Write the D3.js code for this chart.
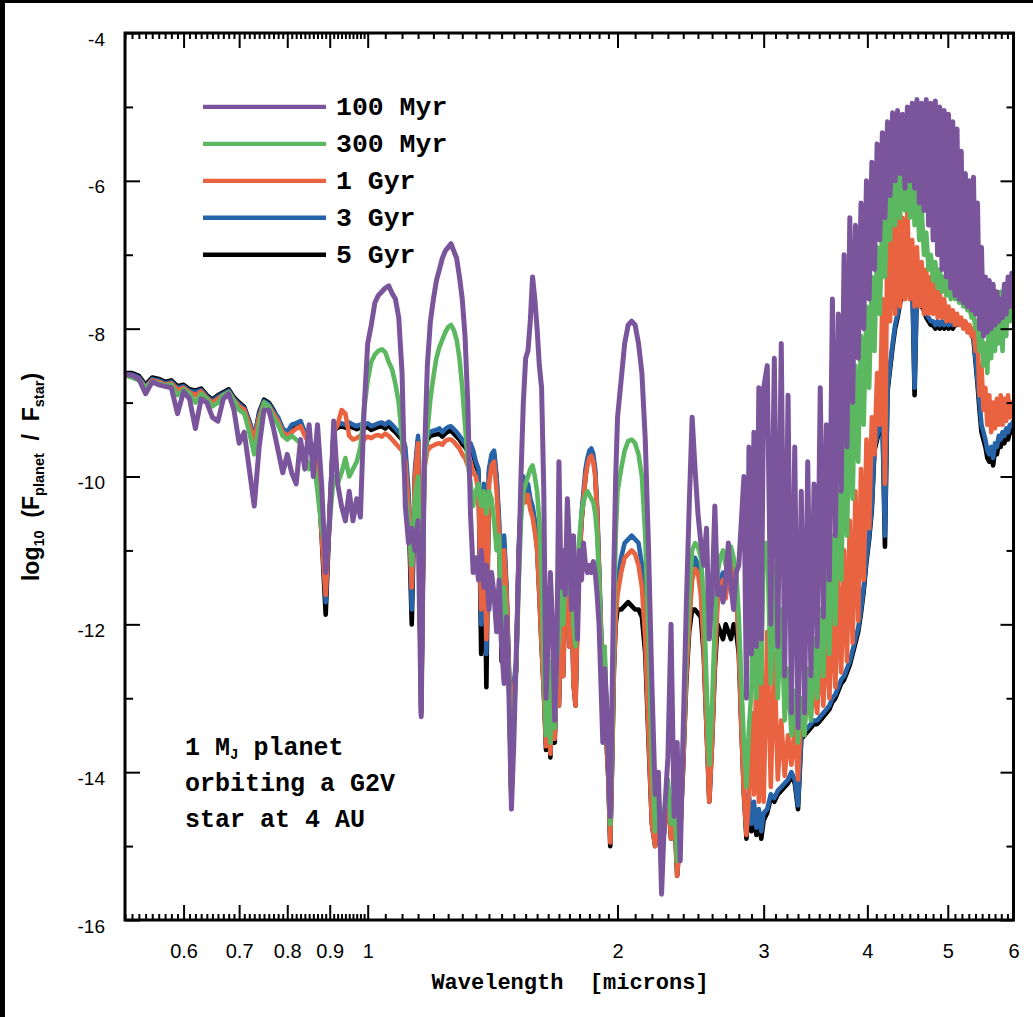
<!DOCTYPE html>
<html><head><meta charset="utf-8">
<script src="https://cdn.jsdelivr.net/npm/d3@7"></script>
<style>body{margin:0;background:#fff;overflow:hidden}</style>
</head><body>
<svg id="chart" width="1033" height="1017"></svg>
<script>
// wavelength grid (microns)
const wavelength = [
0.51,0.52,0.53,0.54,0.55,0.56,0.57,0.58,0.59,0.60,
0.61,0.62,0.63,0.64,0.65,0.66,0.67,0.68,0.69,0.70,
0.71,0.72,0.73,0.74,0.75,0.76,0.77,0.78,0.79,0.80,
0.81,0.82,0.83,0.84,0.85,0.86,0.87,0.88,0.89,0.90,
0.91,0.92,0.93,0.94,0.95,0.96,0.97,0.98,0.99,1.00,
1.01,1.02,1.03,1.04,1.05,1.06,1.07,1.08,1.09,1.10,
1.11,1.12,1.13,1.14,1.15,1.16,1.17,1.18,1.19,1.20,
1.21,1.22,1.23,1.24,1.25,1.26,1.27,1.28,1.29,1.30,
1.31,1.32,1.33,1.34,1.35,1.36,1.37,1.38,1.39,1.40,
1.41,1.42,1.43,1.44,1.45,1.46,1.47,1.48,1.49,1.50,
1.51,1.52,1.53,1.54,1.55,1.56,1.57,1.58,1.59,1.60,
1.61,1.62,1.63,1.64,1.65,1.66,1.67,1.68,1.69,1.70,
1.71,1.72,1.73,1.74,1.75,1.76,1.77,1.78,1.79,1.80,
1.81,1.82,1.83,1.84,1.85,1.86,1.87,1.88,1.89,1.90,
1.91,1.92,1.93,1.94,1.95,1.96,1.97,1.98,1.99,2.00,
2.02,2.04,2.06,2.08,2.10,2.12,2.14,2.16,2.18,2.20,
2.22,2.24,2.26,2.28,2.30,2.32,2.34,2.36,2.38,2.40,
2.42,2.44,2.46,2.48,2.50,2.52,2.54,2.56,2.58,2.60,
2.62,2.64,2.66,2.68,2.70,2.72,2.74,2.76,2.78,2.80,
2.82,2.84,2.86,2.88,2.90,2.92,2.94,2.96,2.98,3.00,
3.03,3.06,3.09,3.12,3.15,3.18,3.21,3.24,3.27,3.30,
3.33,3.36,3.39,3.42,3.45,3.48,3.51,3.54,3.57,3.60,
3.63,3.66,3.69,3.72,3.75,3.78,3.81,3.84,3.87,3.90,
3.93,3.96,3.99,4.02,4.05,4.08,4.11,4.14,4.17,4.20,
4.23,4.26,4.29,4.32,4.35,4.38,4.41,4.44,4.47,4.50,
4.53,4.56,4.59,4.62,4.65,4.68,4.71,4.74,4.77,4.80,
4.83,4.86,4.89,4.92,4.95,4.98,5.01,5.04,5.07,5.10,
5.13,5.16,5.19,5.22,5.25,5.28,5.31,5.34,5.37,5.40,
5.43,5.46,5.49,5.52,5.55,5.58,5.61,5.64,5.67,5.70,
5.73,5.76,5.79,5.82,5.85,5.88,5.91,5.94,5.97,6.00];

// log10(F_planet/F_star) for each age
const age100Myr = [
-8.62,-8.63,-8.68,-8.88,-8.72,-8.76,-8.78,-8.80,-9.15,-8.85,
-8.95,-9.35,-8.95,-9.0,-9.2,-9.25,-8.95,-8.88,-9.1,-9.55,
-9.4,-9.9,-10.4,-9.6,-9.1,-9.1,-9.35,-9.65,-9.95,-9.7,
-9.95,-10.1,-9.5,-9.9,-9.3,-10.0,-9.3,-10.1,-11.3,-10.6,
-9.25,-10.1,-10.4,-10.6,-10.2,-10.6,-10.3,-10.55,-9.1,-8.2,
-7.95,-7.65,-7.55,-7.5,-7.45,-7.42,-7.52,-7.6,-7.85,-8.6,
-10.4,-10.9,-10.7,-11.0,-10.6,-13.25,-9.8,-8.5,-7.9,-7.6,
-7.35,-7.2,-7.05,-6.95,-6.9,-6.85,-6.95,-7.05,-7.3,-7.6,
-8.1,-9.0,-10.5,-11.3,-11.1,-11.4,-11.0,-11.5,-11.2,-11.8,
-11.3,-11.6,-12.1,-11.4,-12.3,-12.8,-11.9,-13.0,-14.5,-13.6,
-12.4,-11.3,-10.0,-9.0,-8.4,-8.3,-7.9,-7.3,-7.6,-8.0,
-8.5,-8.8,-10.2,-13.0,-12.2,-11.3,-12.0,-13.3,-12.4,-9.8,
-11.5,-11.0,-11.6,-10.3,-10.9,-11.8,-10.8,-11.5,-12.2,-11.0,
-11.4,-10.9,-11.2,-11.3,-11.2,-11.3,-11.15,-11.3,-11.6,-12.0,
-12.8,-13.6,-12.6,-13.0,-13.9,-14.6,-13.0,-11.2,-10.0,-9.2,
-8.7,-8.2,-7.95,-7.9,-7.95,-8.2,-8.6,-9.5,-11.0,-12.8,
-14.3,-14.0,-15.65,-14.5,-13.8,-12.0,-14.6,-13.6,-15.2,-13.4,
-11.8,-10.4,-9.2,-9.9,-10.5,-10.9,-11.2,-10.7,-12.2,-11.6,
-10.4,-11.6,-11.5,-11.7,-11.4,-10.9,-11.5,-11.8,-11.3,-11.2,
-10.6,-10.0,-13.0,-9.6,-12.4,-9.4,-12.3,-8.8,-12.2,-8.8,
-8.5,-12.0,-8.4,-12.3,-8.2,-12.7,-8.9,-13.2,-9.6,-13.4,
-10.2,-13.2,-9.8,-12.7,-10.1,-12.3,-8.8,-11.9,-9.3,-11.4,
-7.6,-10.8,-7.8,-10.2,-7.0,-9.6,-6.5,-9.0,-6.6,-8.4,
-6.3,-8.0,-6.0,-7.6,-5.75,-7.2,-5.5,-6.8,-5.35,-6.5,
-5.2,-6.2,-5.08,-6.0,-5.05,-5.9,-5.1,-6.1,-5.0,-6.0,
-4.95,-6.1,-4.9,-6.3,-4.95,-6.4,-4.9,-6.6,-4.95,-6.8,
-4.92,-7.0,-5.0,-7.2,-5.05,-7.3,-5.1,-7.45,-5.2,-7.55,
-5.3,-7.6,-5.6,-7.65,-5.9,-7.7,-6.0,-7.75,-5.95,-7.8,
-6.3,-8.0,-6.9,-8.1,-7.3,-8.05,-7.35,-8.0,-7.4,-7.95,
-7.5,-7.9,-7.6,-7.85,-7.4,-7.8,-7.3,-7.7,-7.25,-7.6];

const age300Myr = [
-8.63,-8.66,-8.70,-8.80,-8.72,-8.74,-8.77,-8.76,-8.9,-8.82,
-8.88,-9.0,-8.88,-8.95,-9.05,-9.0,-8.9,-8.86,-8.98,-9.1,
-9.15,-9.4,-9.7,-9.3,-9.0,-9.05,-9.2,-9.3,-9.45,-9.5,
-9.45,-9.5,-9.55,-9.7,-9.9,-9.75,-10.2,-10.7,-11.0,-10.6,
-10.0,-10.1,-9.95,-9.75,-10.0,-9.9,-9.8,-9.6,-9.1,-8.7,
-8.45,-8.35,-8.3,-8.28,-8.32,-8.45,-8.55,-8.75,-9.0,-9.5,
-10.2,-10.6,-11.2,-10.3,-10.0,-12.9,-9.9,-9.4,-8.95,-8.65,
-8.4,-8.25,-8.15,-8.05,-7.98,-7.95,-8.02,-8.15,-8.4,-8.8,
-9.3,-9.8,-10.1,-10.4,-10.2,-10.1,-10.4,-10.2,-10.5,-10.2,
-10.3,-10.6,-11.0,-10.8,-12.2,-11.5,-12.0,-12.8,-14.4,-13.2,
-12.6,-11.5,-10.6,-10.2,-10.1,-10.0,-9.9,-9.85,-10.0,-10.2,
-10.6,-11.4,-12.5,-13.5,-12.4,-13.6,-12.6,-13.4,-12.5,-12.2,
-11.5,-12.0,-11.3,-10.9,-11.6,-11.0,-12.0,-12.3,-11.4,-10.8,
-10.5,-10.35,-10.25,-10.2,-10.25,-10.3,-10.35,-10.5,-10.8,-11.4,
-12.2,-13.0,-12.3,-13.3,-13.8,-14.7,-13.5,-12.0,-10.8,-10.2,
-9.9,-9.65,-9.52,-9.5,-9.55,-9.7,-10.0,-10.8,-12.2,-13.8,
-14.8,-14.2,-15.1,-14.5,-14.1,-14.7,-14.3,-15.2,-14.6,-13.6,
-12.4,-11.6,-11.0,-10.9,-10.95,-11.1,-11.6,-12.8,-13.9,-13.1,
-12.0,-11.3,-11.1,-11.0,-11.2,-11.0,-10.95,-11.1,-11.3,-11.9,
-12.8,-13.6,-14.2,-13.4,-12.9,-11.6,-13.0,-11.0,-12.8,-10.9,
-10.9,-12.8,-11.2,-13.0,-11.8,-13.3,-12.6,-13.5,-12.9,-13.6,
-13.0,-13.5,-12.6,-13.3,-12.2,-13.0,-11.8,-12.7,-11.3,-12.4,
-10.8,-12.0,-10.2,-11.4,-9.5,-10.8,-8.9,-10.3,-8.5,-9.8,
-8.1,-9.3,-7.7,-8.8,-7.3,-8.3,-6.9,-7.8,-6.5,-7.3,
-6.2,-6.8,-5.55,-6.6,-5.75,-6.5,-5.6,-6.4,-5.75,-6.5,
-5.7,-6.6,-6.0,-6.8,-6.35,-7.0,-6.7,-7.2,-7.0,-7.35,
-7.1,-7.45,-7.2,-7.5,-7.3,-7.55,-7.3,-7.6,-7.35,-7.6,
-7.4,-7.65,-7.5,-7.7,-7.6,-7.75,-7.7,-7.85,-7.8,-8.0,
-7.9,-8.3,-8.0,-8.5,-8.2,-8.6,-7.7,-8.4,-7.6,-8.3,
-7.6,-8.2,-7.5,-8.3,-7.6,-8.1,-7.5,-7.9,-7.55,-7.6];

const age1Gyr = [
-8.63,-8.64,-8.68,-8.8,-8.7,-8.72,-8.76,-8.74,-8.83,-8.8,
-8.86,-8.9,-8.85,-8.94,-9.0,-8.95,-8.9,-8.86,-8.97,-9.05,
-9.1,-9.3,-9.5,-9.2,-9.0,-9.05,-9.15,-9.25,-9.4,-9.45,
-9.4,-9.35,-9.32,-9.45,-9.55,-9.65,-9.9,-10.8,-11.6,-10.5,
-9.4,-9.3,-9.1,-9.15,-9.45,-9.5,-9.48,-9.45,-9.5,-9.46,
-9.48,-9.45,-9.44,-9.46,-9.42,-9.45,-9.5,-9.55,-9.6,-9.65,
-9.8,-10.4,-11.5,-10.0,-9.55,-13.2,-9.9,-9.65,-9.6,-9.58,
-9.56,-9.55,-9.57,-9.52,-9.5,-9.5,-9.53,-9.58,-9.62,-9.7,
-9.75,-9.85,-9.8,-9.95,-10.0,-10.2,-11.8,-10.3,-12.2,-10.1,
-9.85,-9.8,-10.2,-10.8,-12.3,-11.0,-11.6,-12.7,-14.35,-12.9,
-12.6,-11.1,-10.4,-10.2,-10.35,-10.25,-10.45,-10.55,-10.75,-11.0,
-11.6,-12.3,-12.9,-13.65,-12.6,-13.75,-12.9,-13.55,-12.7,-13.1,
-11.9,-12.7,-11.6,-11.1,-12.3,-11.4,-12.8,-13.1,-11.9,-11.1,
-10.6,-10.3,-10.0,-9.85,-9.75,-9.72,-9.8,-10.0,-10.5,-11.3,
-12.1,-13.3,-12.5,-13.6,-14.1,-14.95,-13.9,-12.6,-11.9,-11.6,
-11.3,-11.1,-11.05,-11.0,-11.05,-11.2,-11.5,-12.2,-13.5,-14.7,
-15.0,-14.4,-15.2,-14.7,-14.3,-14.9,-14.5,-15.4,-14.8,-13.9,
-12.7,-12.0,-11.4,-11.25,-11.3,-11.6,-12.3,-13.4,-14.4,-13.6,
-12.5,-11.7,-11.5,-11.4,-11.65,-11.3,-11.15,-11.35,-11.6,-12.3,
-13.4,-14.3,-14.85,-14.3,-13.2,-14.3,-12.6,-14.4,-12.3,-14.4,
-12.1,-14.2,-12.4,-14.1,-13.3,-14.05,-13.5,-13.9,-13.4,-14.1,
-13.2,-13.35,-13.0,-13.25,-12.8,-13.2,-12.3,-13.1,-12.0,-13.0,
-11.7,-12.85,-11.4,-12.65,-11.0,-12.5,-10.6,-12.25,-10.2,-11.95,
-9.9,-11.4,-9.5,-10.7,-9.2,-9.7,-8.6,-9.3,-7.6,-10.1,
-6.5,-7.9,-6.35,-7.8,-6.45,-7.7,-6.5,-7.6,-6.4,-7.6,
-6.8,-7.7,-6.9,-7.7,-7.1,-7.8,-7.2,-7.8,-7.3,-7.8,
-7.4,-7.85,-7.5,-7.85,-7.6,-7.9,-7.7,-7.9,-7.75,-7.95,
-7.8,-7.95,-7.85,-8.0,-7.9,-8.05,-7.95,-8.1,-8.0,-8.3,
-8.1,-8.9,-8.5,-9.1,-8.8,-9.3,-8.9,-9.4,-9.0,-9.35,
-8.95,-9.3,-8.9,-9.3,-8.95,-9.25,-8.9,-9.2,-9.0,-9.15];

const age3Gyr = [
-8.62,-8.62,-8.66,-8.78,-8.68,-8.70,-8.74,-8.72,-8.80,-8.78,
-8.84,-8.86,-8.83,-8.92,-8.98,-8.92,-8.88,-8.84,-8.95,-9.02,
-9.08,-9.25,-9.45,-9.15,-8.98,-9.02,-9.12,-9.2,-9.35,-9.4,
-9.3,-9.28,-9.25,-9.4,-9.5,-9.6,-9.8,-10.6,-11.7,-10.4,
-9.35,-9.3,-9.28,-9.3,-9.27,-9.3,-9.32,-9.3,-9.3,-9.28,
-9.32,-9.3,-9.28,-9.27,-9.3,-9.26,-9.3,-9.35,-9.4,-9.45,
-9.6,-10.2,-11.8,-9.9,-9.45,-13.1,-9.7,-9.45,-9.4,-9.38,
-9.37,-9.35,-9.4,-9.36,-9.33,-9.32,-9.36,-9.4,-9.45,-9.5,
-9.55,-9.6,-9.55,-9.65,-9.8,-9.9,-12.0,-10.1,-12.4,-9.9,
-9.7,-9.65,-10.0,-10.6,-12.3,-10.8,-11.5,-12.6,-14.3,-12.8,
-12.5,-11.0,-10.3,-10.0,-10.2,-10.1,-10.3,-10.4,-10.6,-10.9,
-11.5,-12.2,-12.8,-13.6,-12.5,-13.7,-12.8,-13.5,-12.6,-13.0,
-11.8,-12.6,-11.5,-11.0,-12.2,-11.3,-12.7,-13.0,-11.8,-11.0,
-10.5,-10.2,-9.9,-9.75,-9.65,-9.62,-9.7,-9.9,-10.4,-11.2,
-12.0,-13.2,-12.4,-13.5,-14.0,-14.9,-13.8,-12.5,-11.8,-11.4,
-11.1,-10.9,-10.85,-10.8,-10.85,-10.9,-11.2,-12.0,-13.4,-14.6,
-14.9,-14.3,-15.1,-14.6,-14.2,-14.8,-14.4,-15.3,-14.7,-13.8,
-12.6,-11.9,-11.3,-11.1,-11.2,-11.5,-12.2,-13.3,-14.3,-13.5,
-12.4,-11.6,-11.4,-11.3,-11.6,-11.2,-11.1,-11.3,-11.5,-12.2,
-13.3,-14.2,-14.8,-14.3,-14.7,-14.4,-14.75,-14.5,-14.8,-14.55,
-14.5,-14.3,-14.35,-14.25,-14.2,-14.15,-14.1,-14.0,-14.1,-14.45,
-13.5,-13.45,-13.4,-13.35,-13.3,-13.3,-13.25,-13.2,-13.15,-13.1,
-13.0,-12.95,-12.85,-12.75,-12.7,-12.6,-12.5,-12.35,-12.2,-12.05,
-11.8,-11.5,-11.1,-10.8,-10.4,-9.6,-9.45,-9.3,-9.1,-10.8,
-8.8,-8.5,-8.2,-7.95,-7.8,-7.6,-7.5,-7.4,-7.35,-7.3,
-7.25,-8.8,-7.35,-7.55,-7.65,-7.7,-7.8,-7.85,-7.9,-7.9,
-7.95,-7.9,-7.95,-7.9,-7.95,-7.9,-7.95,-7.9,-7.95,-7.9,
-7.9,-7.88,-7.9,-7.9,-7.92,-7.95,-8.0,-8.0,-8.1,-8.4,
-8.7,-9.0,-9.3,-9.4,-9.5,-9.65,-9.7,-9.6,-9.75,-9.55,
-9.6,-9.45,-9.5,-9.4,-9.45,-9.35,-9.4,-9.3,-9.3,-9.25];

const age5Gyr = [
-8.6,-8.6,-8.64,-8.76,-8.66,-8.68,-8.72,-8.7,-8.78,-8.76,
-8.82,-8.84,-8.81,-8.9,-8.96,-8.9,-8.86,-8.82,-8.93,-9.0,
-9.06,-9.25,-9.5,-9.13,-8.96,-9.0,-9.1,-9.22,-9.38,-9.45,
-9.33,-9.3,-9.28,-9.42,-9.52,-9.63,-9.85,-10.8,-11.87,-10.5,
-9.38,-9.34,-9.32,-9.34,-9.31,-9.34,-9.36,-9.34,-9.35,-9.33,
-9.37,-9.35,-9.33,-9.32,-9.35,-9.31,-9.36,-9.4,-9.45,-9.5,
-9.7,-10.4,-12.0,-10.0,-9.5,-13.2,-9.75,-9.5,-9.45,-9.44,
-9.43,-9.42,-9.46,-9.42,-9.39,-9.38,-9.42,-9.46,-9.5,-9.56,
-9.6,-9.66,-9.6,-9.7,-9.85,-9.95,-12.4,-10.2,-12.85,-9.95,
-9.75,-9.7,-10.05,-10.7,-12.5,-10.9,-11.6,-12.7,-14.4,-12.9,
-12.6,-11.1,-10.35,-10.05,-10.25,-10.15,-10.35,-10.45,-10.65,-10.95,
-11.6,-12.3,-12.9,-13.7,-12.6,-13.8,-12.9,-13.6,-12.7,-13.1,
-11.9,-12.7,-11.6,-11.1,-12.3,-11.4,-12.8,-13.1,-11.9,-11.1,
-10.6,-10.3,-10.0,-9.8,-9.7,-9.68,-9.76,-9.96,-10.5,-11.3,
-12.1,-13.3,-12.5,-13.6,-14.1,-15.0,-13.9,-12.6,-12.0,-11.8,
-11.8,-11.75,-11.7,-11.75,-11.8,-11.8,-11.9,-12.4,-13.6,-14.7,
-15.0,-14.4,-15.2,-14.7,-14.3,-14.9,-14.5,-15.4,-14.8,-13.9,
-12.8,-12.1,-11.8,-11.8,-11.85,-11.9,-12.4,-13.4,-14.4,-13.6,
-12.6,-12.0,-12.1,-12.2,-12.0,-12.1,-12.2,-12.0,-12.1,-12.4,
-13.4,-14.3,-14.9,-14.4,-14.8,-14.5,-14.85,-14.6,-14.9,-14.65,
-14.55,-14.35,-14.4,-14.3,-14.25,-14.2,-14.15,-14.05,-14.15,-14.5,
-13.55,-13.5,-13.45,-13.4,-13.35,-13.35,-13.3,-13.25,-13.2,-13.15,
-13.05,-13.0,-12.9,-12.8,-12.75,-12.65,-12.55,-12.4,-12.25,-12.1,
-11.85,-11.55,-11.15,-10.85,-10.45,-9.65,-9.5,-9.35,-9.15,-10.95,
-8.85,-8.55,-8.25,-8.0,-7.85,-7.65,-7.55,-7.45,-7.4,-7.35,
-7.3,-8.9,-7.4,-7.6,-7.7,-7.75,-7.85,-7.9,-7.95,-7.95,
-8.0,-7.95,-8.0,-7.95,-8.0,-7.95,-8.0,-7.95,-8.0,-7.95,
-7.95,-7.93,-7.95,-7.95,-7.97,-8.0,-8.05,-8.05,-8.15,-8.45,
-8.75,-9.1,-9.4,-9.5,-9.6,-9.75,-9.8,-9.7,-9.85,-9.65,
-9.7,-9.55,-9.6,-9.5,-9.55,-9.45,-9.5,-9.4,-9.4,-9.35];

const seriesNames = ["100 Myr", "300 Myr", "1 Gyr", "3 Gyr", "5 Gyr"];
const seriesValues = [age100Myr, age300Myr, age1Gyr, age3Gyr, age5Gyr];
const seriesColors = ["#7b559c", "#5cb860", "#ea6340", "#2763a8", "#000000"];
const seriesWidths = [5, 4.6, 4.6, 4.6, 4.6];
const yTickValues = [-4, -6, -8, -10, -12, -14, -16];
const xTickLabels = [0.6, 0.7, 0.8, 0.9, 1, 2, 3, 4, 5, 6];
const annotationLines = ["orbiting a G2V", "star at 4 AU"];

// ---- layout ----
const L = 125, R = 1013.5, T = 33, B = 920;
const svg = d3.select("#chart");
svg.append("rect").attr("width", 1033).attr("height", 1017).attr("fill", "#fff");

const x = d3.scaleLog().domain([0.51, 6]).range([L, R]);
const y = d3.scaleLinear().domain([-16, -4]).range([B, T]);

svg.append("clipPath").attr("id", "clip").append("rect")
  .attr("x", L).attr("y", T).attr("width", R - L).attr("height", B - T);

const line = d3.line().x(d => x(d[0])).y(d => y(d[1]));
const g = svg.append("g").attr("clip-path", "url(#clip)");
// draw oldest first so youngest (100 Myr) is on top
for (let i = seriesValues.length - 1; i >= 0; i--) {
  const pts = wavelength.map((w, k) => [w, seriesValues[i][k]]);
  g.append("path").datum(pts).attr("d", line)
    .attr("fill", "none").attr("stroke", seriesColors[i])
    .attr("stroke-width", seriesWidths[i]).attr("stroke-linejoin", "round").attr("stroke-linecap", "round");
}

// ---- axes ----
const minorLow = d3.range(51, 100).map(v => v / 100).filter(v => Math.round(v * 100) % 10 !== 0);
const minorMid = d3.range(21, 40).map(v => v / 20).filter(v => v !== 2);
const minorHigh = d3.range(21, 60).map(v => v / 10).filter(v => Math.round(v * 10) % 10 !== 0);
const minorX = minorLow.concat(minorMid, minorHigh);
const yMinor = [-5, -7, -9, -11, -13, -15];

function styleAxis(sel) {
  sel.select(".domain").remove();
  sel.selectAll("line").attr("stroke", "#000").attr("stroke-width", 2);
}
// bottom
svg.append("g").attr("transform", `translate(0,${B})`)
  .call(d3.axisBottom(x).tickValues(minorX).tickSize(-6).tickFormat(""))
  .call(styleAxis);
svg.append("g").attr("transform", `translate(0,${B})`)
  .call(d3.axisBottom(x).tickValues(xTickLabels).tickSize(-15).tickPadding(24).tickFormat(d => d))
  .call(styleAxis)
  .selectAll("text").attr("font-family", "Liberation Sans, Arial, sans-serif").attr("font-size", 20).attr("fill", "#000");
// top
svg.append("g").attr("transform", `translate(0,${T})`)
  .call(d3.axisTop(x).tickValues(minorX).tickSize(-6).tickFormat("")).call(styleAxis);
svg.append("g").attr("transform", `translate(0,${T})`)
  .call(d3.axisTop(x).tickValues(xTickLabels).tickSize(-15).tickFormat("")).call(styleAxis);
// left
svg.append("g").attr("transform", `translate(${L},0)`)
  .call(d3.axisLeft(y).tickValues(yMinor).tickSize(-8).tickFormat("")).call(styleAxis);
const yl = svg.append("g").attr("transform", `translate(${L},0)`)
  .call(d3.axisLeft(y).tickValues(yTickValues).tickSize(-15).tickPadding(20).tickFormat(d => d))
  .call(styleAxis);
yl.selectAll("text").attr("font-family", "Liberation Sans, Arial, sans-serif").attr("font-size", 19)
  .attr("fill", "#000").attr("dy", 12);
// right
svg.append("g").attr("transform", `translate(${R},0)`)
  .call(d3.axisRight(y).tickValues(yMinor).tickSize(-7).tickFormat("")).call(styleAxis);
svg.append("g").attr("transform", `translate(${R},0)`)
  .call(d3.axisRight(y).tickValues(yTickValues).tickSize(-13).tickFormat("")).call(styleAxis);

// frame
svg.append("rect").attr("x", L).attr("y", T).attr("width", R - L).attr("height", B - T)
  .attr("fill", "none").attr("stroke", "#000").attr("stroke-width", 3);

// ---- legend ----
const mono = "Liberation Mono, Courier New, monospace";
seriesNames.forEach((name, i) => {
  const ly = y(-5 - 0.5 * i);
  svg.append("line").attr("x1", 203).attr("x2", 326).attr("y1", ly).attr("y2", ly)
    .attr("stroke", seriesColors[i]).attr("stroke-width", 4.4);
  svg.append("text").attr("x", 336).attr("y", ly + 8.5).text(name)
    .attr("font-family", mono).attr("font-weight", "bold").attr("font-size", 26.5).attr("fill", "#000");
});

// ---- annotation ----
const ann = svg.append("text").attr("font-family", mono).attr("font-weight", "bold")
  .attr("font-size", 25).attr("fill", "#000");
const t1 = ann.append("tspan").attr("x", 185).attr("y", 755);
t1.append("tspan").text("1 M");
t1.append("tspan").attr("font-size", 14).attr("dy", 4).text("J");
t1.append("tspan").attr("dy", -4).text(" planet");
annotationLines.forEach((s, i) => {
  ann.append("tspan").attr("x", 185).attr("y", 791 + 36 * i).text(s);
});

// ---- axis titles ----
svg.append("text").attr("x", 570).attr("y", 989).attr("text-anchor", "middle")
  .attr("font-family", mono).attr("font-weight", "bold").attr("font-size", 22).attr("fill", "#000")
  .attr("xml:space", "preserve").text("Wavelength  [microns]");

const yt = svg.append("text").attr("transform", "translate(39,477) rotate(-90)")
  .attr("text-anchor", "middle").attr("font-family", "Liberation Sans, Arial, sans-serif")
  .attr("font-weight", "bold").attr("font-size", 23).attr("fill", "#000").attr("xml:space", "preserve");
yt.append("tspan").text("log");
yt.append("tspan").attr("font-size", 14.5).attr("dy", 5).text("10");
yt.append("tspan").attr("dy", -5).text("  (F");
yt.append("tspan").attr("font-size", 14.5).attr("dy", 5).text("planet");
yt.append("tspan").attr("dy", -5).text("  /  F");
yt.append("tspan").attr("font-size", 14.5).attr("dy", 5).text("star");
yt.append("tspan").attr("dy", -5).text(")");

// ---- dark frame of the photograph ----
svg.append("rect").attr("x", 0).attr("y", 0).attr("width", 1033).attr("height", 3).attr("fill", "#000");
svg.append("rect").attr("x", 0).attr("y", 0).attr("width", 5).attr("height", 1017).attr("fill", "#000");
</script>
</body></html>
